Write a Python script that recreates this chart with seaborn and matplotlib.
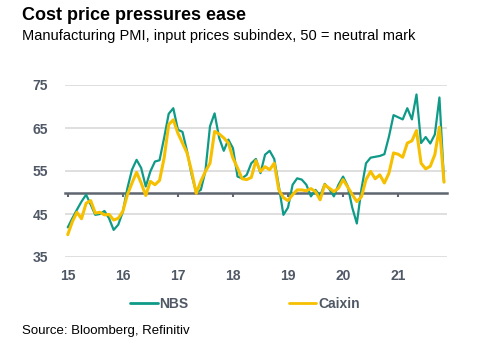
import matplotlib
matplotlib.use("Agg")
import matplotlib.pyplot as plt
import seaborn as sns
import pandas as pd
import numpy as np

# Monthly data, Jan 2015 - Nov 2021
nbs = [41.9, 44.0, 46.0, 47.9, 49.5, 47.2, 44.8, 45.0, 45.7, 44.0, 41.3, 42.5,
       45.5, 51.0, 55.3, 57.6, 55.7, 51.4, 54.9, 57.2, 57.5, 62.7, 68.3, 69.6,
       64.6, 64.1, 59.6, 54.1, 50.0, 50.6, 55.0, 65.4, 68.4, 62.7, 59.7, 62.3,
       60.3, 53.7, 53.3, 54.1, 56.8, 57.8, 54.5, 58.8, 59.7, 57.8, 51.5, 44.8,
       46.5, 51.8, 53.3, 53.0, 51.8, 49.1, 50.6, 49.2, 52.0, 50.8, 49.1, 51.8,
       53.7, 51.5, 46.5, 42.8, 50.8, 56.8, 58.1, 58.3, 58.5, 58.9, 63.0, 68.0,
       67.5, 67.0, 69.6, 67.0, 72.8, 61.5, 62.9, 61.4, 63.5, 72.1, 52.6]
caixin = [40.2, 43.2, 45.4, 43.9, 47.5, 48.1, 45.2, 45.4, 44.8, 44.9, 43.6, 44.0,
          45.6, 49.5, 52.2, 54.7, 52.2, 49.3, 52.6, 51.8, 52.8, 58.0, 65.8, 66.9,
          63.8, 61.5, 59.2, 54.9, 49.8, 52.6, 54.9, 56.8, 64.2, 63.6, 62.7, 61.5,
          58.0, 55.7, 53.2, 53.0, 53.5, 57.4, 54.9, 56.0, 55.3, 56.8, 50.6, 48.8,
          48.1, 49.5, 50.6, 50.6, 50.4, 50.9, 50.2, 48.3, 51.8, 51.0, 50.2, 51.0,
          53.0, 51.3, 49.5, 47.9, 49.0, 53.0, 54.9, 53.2, 54.1, 52.2, 54.5, 59.2,
          58.9, 58.2, 61.5, 62.0, 64.4, 56.8, 55.5, 56.1, 58.8, 65.2, 52.4]
year_labels = ["15", "16", "17", "18", "19", "20", "21"]
y_ticks = [35, 45, 55, 65, 75]

months = np.arange(len(nbs))
df = pd.DataFrame({"month": months, "NBS": nbs, "Caixin": caixin})

TEAL = "#0f9a88"
YELLOW = "#f6c000"
GRAY = "#505866"

sns.set_theme(style="white")
plt.rcParams["font.family"] = ["Liberation Sans", "DejaVu Sans"]

fig = plt.figure(figsize=(4.93, 3.46), dpi=100)
ax = fig.add_axes([65 / 493, 1 - 257 / 346, (447 - 65) / 493, (257 - 85) / 346])

for y in y_ticks:
    ax.axhline(y, color="#d6d6d6", lw=1.1, zorder=0)

sns.lineplot(data=df, x="month", y="NBS", color=TEAL, lw=1.6, ax=ax, label="NBS", zorder=3)
sns.lineplot(data=df, x="month", y="Caixin", color=YELLOW, lw=2.2, ax=ax, label="Caixin", zorder=4)

ax.set_xlim(-0.6, len(nbs) - 1 + 0.65)
ax.set_ylim(35, 75)
ax.set_xlabel("")
ax.set_ylabel("")

for s in ["top", "right", "left"]:
    ax.spines[s].set_visible(False)
ax.spines["bottom"].set_position(("data", 50))
ax.spines["bottom"].set_color("#5f6670")
ax.spines["bottom"].set_linewidth(1.8)
ax.spines["bottom"].set_zorder(2)

year_pos = [12 * k for k in range(len(year_labels))]
ax.set_xticks(year_pos)
ax.set_xticklabels([])
ax.tick_params(axis="x", direction="out", length=3, width=1.5, color="#5f6670", bottom=True)

sec = ax.secondary_xaxis(-0.0)
sec.set_xticks(year_pos)
sec.set_xticklabels(year_labels, fontsize=10, fontweight="bold", color=GRAY)
sec.tick_params(length=0, pad=9)
sec.spines["bottom"].set_visible(False)

ax.set_yticks(y_ticks)
ax.set_yticklabels([str(v) for v in y_ticks], fontsize=10, fontweight="bold", color=GRAY)
ax.tick_params(axis="y", length=0, pad=12)

leg = ax.legend(loc="center", bbox_to_anchor=(245 / 493, 1 - 304 / 346),
                bbox_transform=fig.transFigure, ncol=2, frameon=False,
                handlelength=1.95, handletextpad=0.15, columnspacing=7.2,
                prop={"size": 10, "weight": "bold"})
for t in leg.get_texts():
    t.set_color(GRAY)
for h in leg.get_lines():
    h.set_linewidth(2.0)

fig.text(22 / 493, 1 - 15 / 346, "Cost price pressures ease", fontsize=13,
         fontweight="bold", color="black", va="center", ha="left")
fig.text(22 / 493, 1 - 36 / 346, "Manufacturing PMI, input prices subindex, 50 = neutral mark",
         fontsize=10.5, color="black", va="center", ha="left")
fig.text(22 / 493, 1 - 331 / 346, "Source: Bloomberg, Refinitiv", fontsize=9.5,
         color="black", va="center", ha="left")

fig.savefig("out.png", dpi=100)
